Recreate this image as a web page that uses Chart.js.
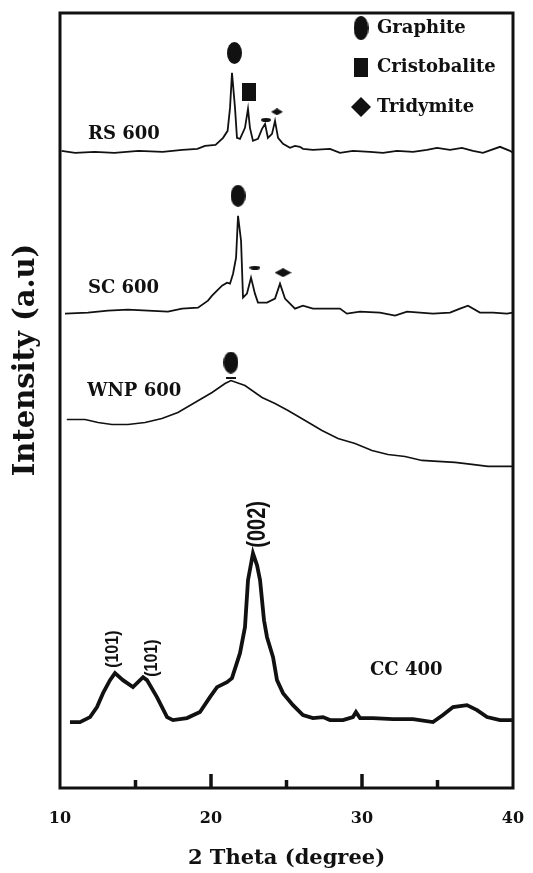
<!DOCTYPE html>
<html>
<head>
<meta charset="utf-8">
<script src="https://cdn.jsdelivr.net/npm/chart.js@4.4.0/dist/chart.umd.min.js"></script>
<style>
    html, body { margin: 0; padding: 0; background: #fff; }
</style>
</head>
<body>
<canvas id="xrdChart" width="533" height="873"></canvas>
<script>
// 2 theta (degree) and intensity (a.u.) above each pattern's own baseline
const rsTheta = [10.1, 11.0, 12.3, 13.6, 15.2, 16.8, 18.1, 19.1, 19.6, 20.3, 20.8, 21.1, 21.26, 21.39, 21.59, 21.72, 21.92, 22.25, 22.45, 22.58, 22.78, 23.11, 23.38, 23.58, 23.77, 24.04, 24.24, 24.44, 24.77, 25.23, 25.56, 25.89, 26.09, 26.75, 27.88, 28.54, 29.4, 30.53, 31.39, 32.32, 33.38, 34.3, 34.97, 35.83, 36.62, 37.35, 38.01, 39.14, 39.8, 40.0];
const rsIntensity = [0, -2, -1, -2, 0, -1, 1, 2, 5, 6, 13, 20, 43, 78, 43, 13, 12, 23, 42, 23, 10, 12, 22, 27, 13, 17, 30, 13, 7, 3, 5, 4, 2, 1, 2, -2, 0, -1, -2, 0, -1, 1, 3, 1, 3, 0, -2, 4, 0, -2];

const scTheta = [10.33, 11.85, 13.18, 14.5, 15.83, 17.15, 18.08, 19.14, 19.8, 20.07, 20.4, 20.73, 21.06, 21.26, 21.46, 21.66, 21.79, 21.99, 22.12, 22.38, 22.65, 22.91, 23.11, 23.71, 24.24, 24.57, 24.9, 25.23, 25.56, 26.09, 26.75, 27.68, 28.54, 29.0, 29.87, 31.19, 32.19, 32.98, 33.84, 34.7, 35.83, 36.49, 37.02, 37.81, 38.68, 39.6, 40.0];
const scIntensity = [-3, -2, 0, 1, 0, -1, 2, 3, 10, 15, 20, 25, 28, 27, 37, 53, 95, 70, 13, 17, 33, 17, 8, 8, 12, 27, 12, 7, 2, 5, 2, 2, 2, -3, -1, -2, -5, -1, -2, -3, -2, 2, 5, -2, -2, -3, -2];

const wnpTheta = [10.45, 11.66, 12.52, 13.44, 14.5, 15.63, 16.75, 17.81, 18.94, 20.07, 20.93, 21.32, 22.25, 23.38, 24.24, 25.1, 26.23, 27.35, 28.41, 29.54, 30.66, 31.72, 32.85, 33.97, 35.03, 36.16, 37.28, 38.34, 39.47, 40.0];
const wnpIntensity = [47, 47, 44, 42, 42, 44, 48, 54, 64, 74, 83, 86, 81, 69, 63, 56, 46, 36, 28, 23, 16, 12, 10, 6, 5, 4, 2, 0, 0, 0];

const ccTheta = [10.66, 11.32, 11.99, 12.45, 12.85, 13.31, 13.64, 14.17, 14.83, 15.5, 15.76, 16.42, 17.09, 17.48, 18.41, 19.27, 19.93, 20.4, 21.06, 21.39, 21.92, 22.25, 22.45, 22.78, 23.05, 23.25, 23.51, 23.71, 24.11, 24.37, 24.77, 25.43, 26.09, 26.75, 27.42, 27.88, 28.74, 29.4, 29.6, 29.87, 30.73, 32.05, 33.38, 34.7, 35.36, 36.03, 36.95, 37.62, 38.28, 39.14, 39.93];
const ccIntensity = [-2, -2, 3, 13, 27, 40, 47, 40, 33, 43, 40, 23, 3, 0, 2, 8, 23, 33, 38, 42, 67, 93, 140, 167, 155, 140, 100, 83, 63, 40, 27, 15, 5, 2, 3, 0, 0, 3, 8, 2, 2, 1, 1, -2, 5, 13, 15, 10, 3, 0, 0];

// vertical stacking offsets of the patterns (a.u.)
const rsOffset = 638;
const scOffset = 478;
const wnpOffset = 322;
const ccOffset = 68;

// phase markers (2 theta, stacked a.u.)
const graphiteTheta = [21.55, 21.79, 21.32];
const graphiteY = [736, 593, 426];
const cristobaliteTheta = [22.52];
const cristobaliteY = [697];
const tridymiteTheta = [24.37, 24.77];
const tridymiteY = [677, 516];
const minorTheta = [23.64, 22.91, 21.32];
const minorY = [669, 521, 411];

const xTickLabels = ['10', '20', '30', '40'];
const phaseNames = ['Graphite', 'Cristobalite', 'Tridymite'];

const ink = '#111';
const serif = 'DejaVu Serif';

function toPoints(thetas, values, offset) {
    return thetas.map((t, i) => ({ x: t, y: values[i] + offset }));
}

function markerImage(kind, w, h) {
    const c = document.createElement('canvas');
    c.width = w;
    c.height = h;
    const g = c.getContext('2d');
    g.fillStyle = ink;
    g.beginPath();
    if (kind === 'ellipse') {
        g.ellipse(w / 2, h / 2, w / 2, h / 2, 0, 0, Math.PI * 2);
    } else if (kind === 'diamond') {
        g.moveTo(w / 2, 0);
        g.lineTo(w, h / 2);
        g.lineTo(w / 2, h);
        g.lineTo(0, h / 2);
        g.closePath();
    } else {
        g.rect(0, 0, w, h);
    }
    g.fill();
    return c;
}

const ellipseMark = markerImage('ellipse', 15, 22);
const squareMark = markerImage('rect', 14, 18);
const legendMarks = [markerImage('ellipse', 15, 24), markerImage('rect', 14, 19), markerImage('diamond', 20, 20)];

function lineSet(label, points, width) {
    return {
        label: label,
        data: points,
        borderColor: ink,
        borderWidth: width,
        pointRadius: 0,
        tension: 0,
        fill: false
    };
}

function markSet(label, thetas, ys, styles) {
    return {
        type: 'scatter',
        label: label,
        data: thetas.map((t, i) => ({ x: t, y: ys[i] })),
        pointStyle: styles,
        pointRadius: 6,
        showLine: false
    };
}

// texts drawn inside the plot
const sampleLabels = [
    { text: 'RS 600', x: 11.85, y: 650 },
    { text: 'SC 600', x: 11.85, y: 496 },
    { text: 'WNP 600', x: 11.8, y: 393 },
    { text: 'CC 400', x: 30.53, y: 113 }
];
const hklLabels = [
    { text: '(101)', x: 13.51, y: 139, size: 16, stretch: 1.1 },
    { text: '(101)', x: 16.09, y: 130, size: 16, stretch: 1.1 },
    { text: '(002)', x: 23.11, y: 264, size: 20, stretch: 1.3 }
];

const decor = {
    id: 'decor',
    afterDraw(chart) {
        const { ctx, chartArea: a, scales: { x, y } } = chart;
        ctx.save();
        ctx.strokeStyle = ink;
        ctx.fillStyle = ink;

        // frame
        ctx.lineWidth = 3;
        ctx.strokeRect(a.left, a.top, a.right - a.left, a.bottom - a.top);

        // inner tick marks on the bottom axis
        ctx.lineWidth = 3.5;
        x.ticks.forEach(t => {
            if (t.value <= x.min || t.value >= x.max) return;
            const px = x.getPixelForValue(t.value);
            const len = t.value % 10 === 0 ? 14 : 8;
            ctx.beginPath();
            ctx.moveTo(px, a.bottom);
            ctx.lineTo(px, a.bottom - len);
            ctx.stroke();
        });

        // sample names
        ctx.font = 'bold 18px "' + serif + '"';
        ctx.textAlign = 'left';
        ctx.textBaseline = 'alphabetic';
        sampleLabels.forEach(l => {
            ctx.fillText(l.text, x.getPixelForValue(l.x), y.getPixelForValue(l.y));
        });

        // legend
        ctx.textBaseline = 'middle';
        phaseNames.forEach((name, i) => {
            const cy = a.top + 15 + i * 39.5;
            const img = legendMarks[i];
            ctx.drawImage(img, a.right - 152 - img.width / 2, cy - img.height / 2);
            ctx.fillText(name, a.right - 136, cy);
        });

        // reflection indices
        hklLabels.forEach(l => {
            ctx.save();
            ctx.translate(x.getPixelForValue(l.x), y.getPixelForValue(l.y));
            ctx.rotate(-Math.PI / 2);
            ctx.scale(1, l.stretch);
            ctx.font = 'bold ' + l.size + 'px "Liberation Sans"';
            ctx.textAlign = 'center';
            ctx.textBaseline = 'middle';
            ctx.fillText(l.text, 0, 0);
            ctx.restore();
        });

        // y axis title
        ctx.save();
        ctx.translate(26, 360);
        ctx.rotate(-Math.PI / 2);
        ctx.font = 'bold 29px "' + serif + '"';
        ctx.textAlign = 'center';
        ctx.textBaseline = 'middle';
        ctx.fillText('Intensity (a.u)', 0, 0);
        ctx.restore();

        ctx.restore();
    }
};

const ctx = document.getElementById('xrdChart').getContext('2d');
const chart = new Chart(ctx, {
    type: 'line',
    data: {
        datasets: [
            lineSet('RS 600', toPoints(rsTheta, rsIntensity, rsOffset), 1.8),
            lineSet('SC 600', toPoints(scTheta, scIntensity, scOffset), 1.8),
            lineSet('WNP 600', toPoints(wnpTheta, wnpIntensity, wnpOffset), 1.6),
            lineSet('CC 400', toPoints(ccTheta, ccIntensity, ccOffset), 3.8),
            markSet('Graphite', graphiteTheta, graphiteY, ellipseMark),
            markSet('Cristobalite', cristobaliteTheta, cristobaliteY, squareMark),
            markSet('Tridymite', tridymiteTheta, tridymiteY, [markerImage('diamond', 12, 7), markerImage('diamond', 17, 9)]),
            markSet('minor', minorTheta, minorY, [markerImage('ellipse', 10, 4), markerImage('ellipse', 11, 4), markerImage('rect', 10, 2)])
        ]
    },
    options: {
        responsive: false,
        animation: false,
        devicePixelRatio: 1,
        layout: {
            padding: { left: 60, top: 13, right: 20, bottom: 0 }
        },
        plugins: {
            legend: { display: false },
            tooltip: { enabled: false }
        },
        scales: {
            x: {
                type: 'linear',
                min: 10,
                max: 40,
                grid: { display: false, drawTicks: false },
                border: { display: false },
                ticks: {
                    stepSize: 5,
                    autoSkip: false,
                    maxRotation: 0,
                    padding: 21,
                    color: ink,
                    font: { family: serif, weight: 'bold', size: 16 },
                    callback: v => xTickLabels.includes(String(v)) ? String(v) : ''
                },
                title: {
                    display: true,
                    text: '2 Theta (degree)',
                    color: ink,
                    font: { family: serif, weight: 'bold', size: 21 },
                    padding: { top: 0, bottom: 2 }
                },
                afterFit: scale => {
                    scale.height = 85;
                    scale.paddingLeft = 0;
                    scale.paddingRight = 0;
                }
            },
            y: {
                display: false,
                min: 0,
                max: 776
            }
        }
    },
    plugins: [decor]
});
</script>
</body>
</html>
